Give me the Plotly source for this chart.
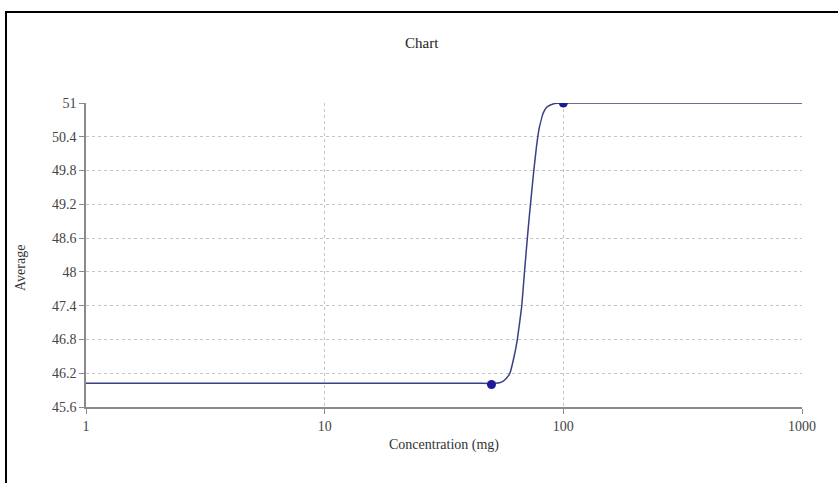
import plotly.graph_objects as go

# Measured data points
conc_points = [50, 100]
avg_points = [46.0, 51.0]

# Fitted curve
curve_conc = [1, 10, 30, 45, 50, 54, 56, 58, 59.7, 61.7, 64.1, 66.9, 68.6, 70.4, 72.0,
              73.6, 75.3, 77.3, 79.2, 82.3, 85, 87.8, 92, 98, 200, 1000]
curve_avg = [46.02, 46.02, 46.02, 46.02, 46.02, 46.03, 46.06, 46.12, 46.2, 46.43, 46.79,
             47.38, 47.95, 48.52, 48.98, 49.40, 49.82, 50.25, 50.55, 50.82, 50.92,
             50.96, 50.99, 51.0, 51.0, 51.0]

y_ticks = [45.6, 46.2, 46.8, 47.4, 48, 48.6, 49.2, 49.8, 50.4, 51]
y_tick_text = ["45.6", "46.2", "46.8", "47.4", "48", "48.6", "49.2", "49.8", "50.4", "51"]
x_ticks = [1, 10, 100, 1000]
x_tick_text = ["1", "10", "100", "1000"]

W, H = 838, 483
L, R, T, B = 86, 36, 103, 76
pw, ph = W - L - R, H - T - B

def px(x):
    return (x - L) / pw

def py(y):
    return (H - B - y) / ph

serif = "Liberation Serif, Times New Roman, serif"

fig = go.Figure()
fig.add_trace(go.Scatter(
    x=curve_conc, y=curve_avg, mode="lines",
    line=dict(color="#3a3f86", width=1.5, shape="spline", smoothing=0.3),
    hoverinfo="skip", showlegend=False))
fig.add_trace(go.Scatter(
    x=conc_points, y=avg_points, mode="markers",
    marker=dict(color="#1c1c96", size=9),
    showlegend=False, cliponaxis=True))

fig.update_layout(
    width=W, height=H,
    margin=dict(l=L, r=R, t=T, b=B, pad=0),
    paper_bgcolor="white", plot_bgcolor="white",
    font=dict(family=serif, size=14, color="#333333"),
    xaxis=dict(type="log", range=[0, 3], tickvals=x_ticks, ticktext=x_tick_text,
               showgrid=True, gridcolor="#c4c4c4", griddash="dot", gridwidth=1,
               showline=True, linecolor="#8a8a8a", linewidth=2,
               ticks="outside", ticklen=5, tickcolor="#8a8a8a",
               zeroline=False, tickfont=dict(family=serif, size=14, color="#444")),
    yaxis=dict(range=[45.6, 51], tickvals=y_ticks, ticktext=y_tick_text,
               showgrid=True, gridcolor="#c4c4c4", griddash="dot", gridwidth=1,
               showline=True, linecolor="#8a8a8a", linewidth=1.5,
               ticks="outside", ticklen=5, tickcolor="#8a8a8a",
               zeroline=False, tickfont=dict(family=serif, size=14, color="#444")),
    shapes=[dict(type="rect", xref="paper", yref="paper",
                 x0=px(6), x1=px(845), y0=py(495), y1=py(12),
                 line=dict(color="black", width=2), fillcolor="rgba(0,0,0,0)")],
    annotations=[
        dict(text="Chart", xref="paper", yref="paper", x=px(422), y=py(43),
             showarrow=False, font=dict(family=serif, size=15, color="#222"),
             xanchor="center", yanchor="middle"),
        dict(text="Average", xref="paper", yref="paper", x=px(20), y=py(268),
             showarrow=False, textangle=-90,
             font=dict(family=serif, size=14, color="#333"),
             xanchor="center", yanchor="middle"),
        dict(text="Concentration (mg)", xref="paper", yref="paper", x=px(444), y=py(445),
             showarrow=False, font=dict(family=serif, size=14, color="#333"),
             xanchor="center", yanchor="middle"),
    ],
)

fig.write_html("out.html",
               config={"displayModeBar": False},
               post_script="document.body.style.margin='0';document.body.style.padding='0';document.body.style.overflow='hidden';")
